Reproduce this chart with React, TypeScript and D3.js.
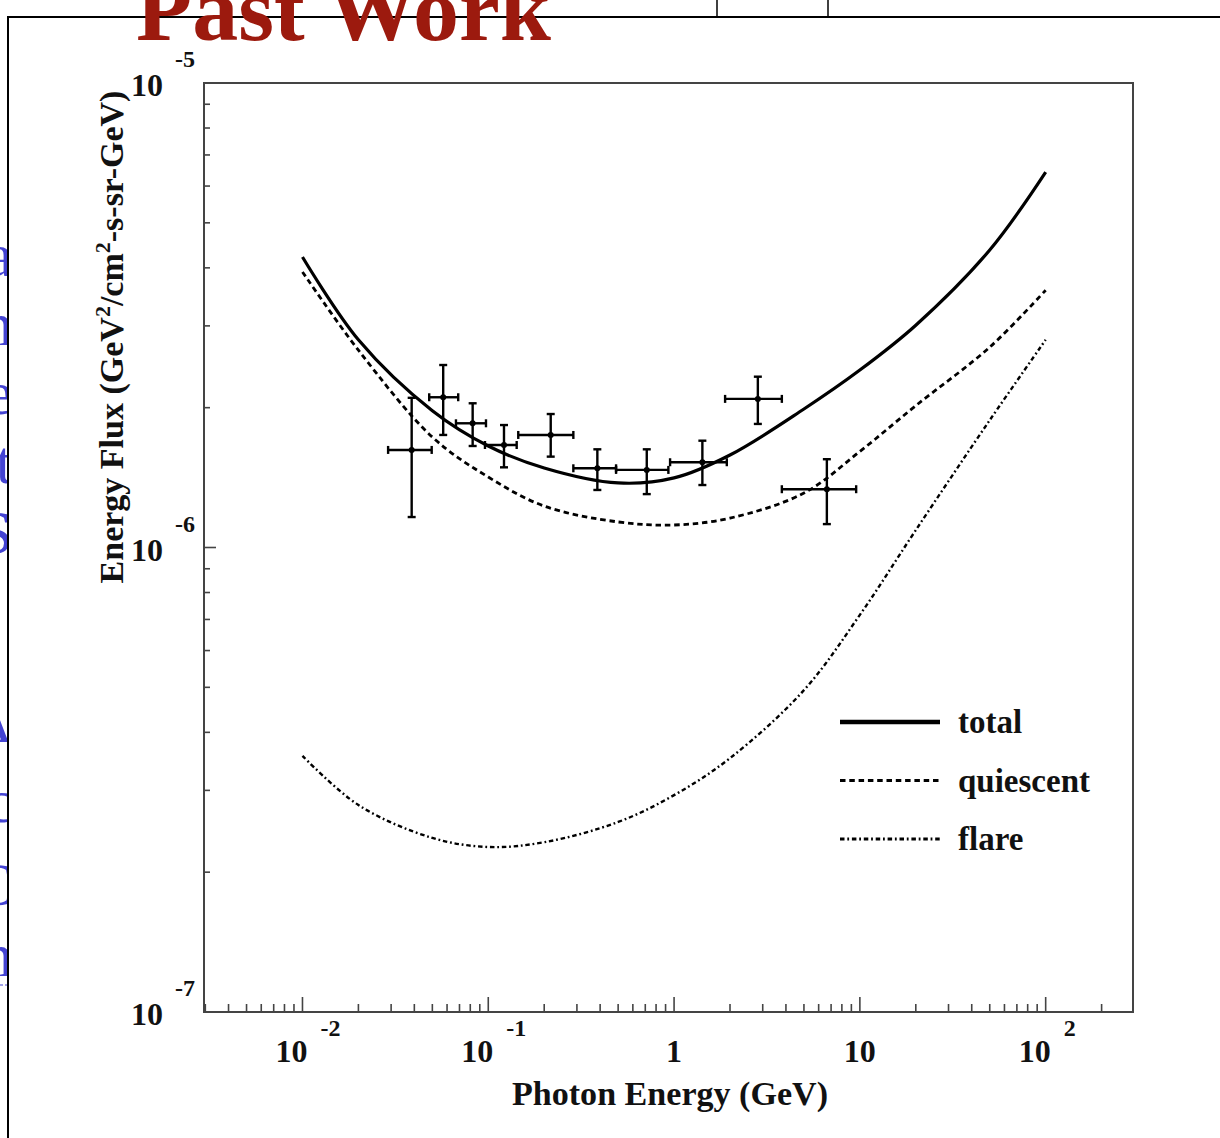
import React from "react";
import * as d3 from "d3";

const W = 1220;
const H = 1138;

// model curves (GeV, GeV^2/cm^2-s-sr-GeV)
const curveEnergy = [0.01, 0.02, 0.05, 0.1, 0.2, 0.5, 1, 2, 5, 10, 20, 50, 100];
const totalFlux = [4.22e-6, 2.8e-6, 1.97e-6, 1.654e-6, 1.483e-6, 1.377e-6, 1.412e-6, 1.582e-6, 1.987e-6, 2.41e-6, 3.01e-6, 4.37e-6, 6.43e-6];
const quiescentFlux = [3.92e-6, 2.66e-6, 1.729e-6, 1.418e-6, 1.228e-6, 1.135e-6, 1.118e-6, 1.157e-6, 1.31e-6, 1.61e-6, 2.02e-6, 2.7e-6, 3.58e-6];
const flareFlux = [3.56e-7, 2.79e-7, 2.37e-7, 2.266e-7, 2.32e-7, 2.565e-7, 2.93e-7, 3.52e-7, 4.93e-7, 7.16e-7, 1.09e-6, 1.88e-6, 2.8e-6];

// measured points with error bars
const pointE = [0.0387, 0.0572, 0.0824, 0.1215, 0.2168, 0.3864, 0.7129, 1.42, 2.824, 6.642];
const pointELow = [0.0289, 0.0481, 0.067, 0.096, 0.145, 0.287, 0.4873, 0.9517, 1.882, 3.802];
const pointEHigh = [0.0496, 0.0689, 0.0972, 0.1422, 0.287, 0.4873, 0.9318, 1.922, 3.802, 9.55];
const pointFlux = [1.622e-6, 2.106e-6, 1.851e-6, 1.662e-6, 1.747e-6, 1.481e-6, 1.469e-6, 1.526e-6, 2.089e-6, 1.335e-6];
const pointFluxLow = [1.163e-6, 1.747e-6, 1.654e-6, 1.488e-6, 1.569e-6, 1.33e-6, 1.303e-6, 1.363e-6, 1.845e-6, 1.123e-6];
const pointFluxHigh = [2.1e-6, 2.471e-6, 2.044e-6, 1.835e-6, 1.938e-6, 1.627e-6, 1.627e-6, 1.698e-6, 2.332e-6, 1.549e-6];

// tick labels
const xTickValues = [0.01, 0.1, 1, 10, 100];
const xTickBase = ["10", "10", "1", "10", "10"];
const xTickExp = ["-2", "-1", "", "", "2"];
const yTickValues = [1e-7, 1e-6, 1e-5];
const yTickBase = ["10", "10", "10"];
const yTickExp = ["-7", "-6", "-5"];

const legendLabels = ["total", "quiescent", "flare"];

const SERIF = "'Liberation Serif', 'DejaVu Serif', serif";

export default function App() {
  const x = d3.scaleLog().domain([Math.pow(10, -2.53), Math.pow(10, 2.47)]).range([204, 1133]);
  const y = d3.scaleLog().domain([1e-7, 1e-5]).range([1012, 83]);
  const [x0, x1] = x.range();
  const [yb, yt] = y.range();

  const line = d3.line<[number, number]>().curve(d3.curveCatmullRom.alpha(0.5));
  const path = (arr: number[]) => line(curveEnergy.map((e, i) => [x(e), y(arr[i])] as [number, number])) || "";

  const isMajor = (v: number) => Math.abs(Math.log10(v) - Math.round(Math.log10(v))) < 1e-6;
  const xd = x.domain();
  const xTicks = x.ticks().filter((v) => v >= xd[0] && v <= xd[1]);
  const yTicks = y.ticks().filter((v) => v > 1e-7 && v < 1e-5);

  const styles = [
    { dash: undefined, w: 3.2, lw: 4.5 },
    { dash: "5.5 3.8", w: 2.8, lw: 3 },
    { dash: "4.5 2.8 1.8 2.8", w: 2.4, lw: 2.8 },
  ];
  const series = [totalFlux, quiescentFlux, flareFlux];

  const blue = "#4444d2";
  const blueSlivers = [
    { ch: "a", y: 276 },
    { ch: "n", y: 345 },
    { ch: "e", y: 414 },
    { ch: "t", y: 483 },
    { ch: "S", y: 553 },
    { ch: "A", y: 742 },
    { ch: "c", y: 822 },
    { ch: "C", y: 905 },
    { ch: "n", y: 976 },
  ];

  return (
    <svg
      width={W}
      height={H}
      viewBox={`0 0 ${W} ${H}`}
      style={{ position: "absolute", left: 0, top: 0, background: "#fff" }}
      fontFamily={SERIF}
    >
      <rect x={0} y={0} width={W} height={H} fill="#fff" />
      {/* slide text behind the picture */}
      {blueSlivers.map((s, i) => (
        <text key={i} x={13} y={s.y} textAnchor="end" fontSize={62} fill={blue} fontFamily={SERIF}>
          {s.ch}
        </text>
      ))}
      <line x1={0} x2={8} y1={985} y2={985} stroke={blue} strokeWidth={1} strokeDasharray="3 2" />
      <line x1={717} x2={717} y1={0} y2={18} stroke="#000" strokeWidth={1.5} />
      <line x1={828} x2={828} y1={0} y2={18} stroke="#000" strokeWidth={1.5} />

      {/* picture */}
      <rect x={8} y={17} width={W} height={H} fill="#fff" stroke="#000" strokeWidth={2} />

      {/* frame */}
      <rect x={x0} y={yt} width={x1 - x0} height={yb - yt} fill="none" stroke="#444" strokeWidth={2} />

      {/* x ticks */}
      {xTicks.map((v, i) => (
        <line key={"xt" + i} x1={x(v)} x2={x(v)} y1={yb} y2={yb - (isMajor(v) ? 15 : 8)} stroke="#444" strokeWidth={1.6} />
      ))}
      {/* y ticks */}
      {yTicks.map((v, i) => (
        <line key={"yt" + i} x1={x0} x2={x0 + (isMajor(v) ? 12 : 6)} y1={y(v)} y2={y(v)} stroke="#444" strokeWidth={1.6} />
      ))}

      {/* x tick labels */}
      {xTickValues.map((v, i) =>
        xTickExp[i] ? (
          <g key={"xl" + i} fontWeight="bold" fill="#111">
            <text x={x(v) + 5} y={1062} textAnchor="end" fontSize={32}>{xTickBase[i]}</text>
            <text x={x(v) + 18} y={1036} textAnchor="start" fontSize={24}>{xTickExp[i]}</text>
          </g>
        ) : (
          <text key={"xl" + i} x={x(v)} y={1062} textAnchor="middle" fontSize={32} fontWeight="bold" fill="#111">
            {xTickBase[i]}
          </text>
        )
      )}
      {/* y tick labels */}
      {yTickValues.map((v, i) => (
        <g key={"yl" + i} fontWeight="bold" fill="#111">
          <text x={163} y={y(v) + 13} textAnchor="end" fontSize={32}>{yTickBase[i]}</text>
          <text x={175} y={y(v) - 16} textAnchor="start" fontSize={24}>{yTickExp[i]}</text>
        </g>
      ))}

      {/* axis titles */}
      <text x={670} y={1105} textAnchor="middle" fontSize={34} fontWeight="bold" fill="#111" textLength={316} lengthAdjust="spacingAndGlyphs">
        Photon Energy (GeV)
      </text>
      <text
        transform="translate(123,337) rotate(-90)"
        textAnchor="middle"
        fontSize={34}
        fontWeight="bold"
        fill="#111"
      >
        Energy Flux (GeV<tspan fontSize={22} dy={-13}>2</tspan>
        <tspan dy={13}>/cm</tspan>
        <tspan fontSize={22} dy={-13}>2</tspan>
        <tspan dy={13}>-s-sr-GeV)</tspan>
      </text>

      {/* model curves */}
      {series.map((s, i) => (
        <path key={"c" + i} d={path(s)} fill="none" stroke="#000" strokeWidth={styles[i].w} strokeDasharray={styles[i].dash} />
      ))}

      {/* data points */}
      {pointE.map((e, i) => {
        const cx = x(e);
        const cy = y(pointFlux[i]);
        const xl = x(pointELow[i]);
        const xh = x(pointEHigh[i]);
        const yl = y(pointFluxLow[i]);
        const yh = y(pointFluxHigh[i]);
        return (
          <g key={"p" + i} stroke="#000" strokeWidth={2.4}>
            <line x1={xl} x2={xh} y1={cy} y2={cy} />
            <line x1={cx} x2={cx} y1={yl} y2={yh} />
            <line x1={xl} x2={xl} y1={cy - 4} y2={cy + 4} />
            <line x1={xh} x2={xh} y1={cy - 4} y2={cy + 4} />
            <line x1={cx - 4} x2={cx + 4} y1={yl} y2={yl} />
            <line x1={cx - 4} x2={cx + 4} y1={yh} y2={yh} />
            <circle cx={cx} cy={cy} r={3} fill="#000" stroke="none" />
          </g>
        );
      })}

      {/* legend */}
      {legendLabels.map((lab, i) => (
        <g key={"lg" + i}>
          <line x1={840} x2={940} y1={722 + i * 58.5} y2={722 + i * 58.5} stroke="#000" strokeWidth={styles[i].lw} strokeDasharray={styles[i].dash} />
          <text x={958} y={733 + i * 58.5} fontSize={33} fontWeight="bold" fill="#111">{lab}</text>
        </g>
      ))}

      {/* slide title on top */}
      <text x={136} y={40} fontSize={92} fontWeight="bold" fill="#9c1a0e" fontFamily={SERIF}>Past Work</text>
    </svg>
  );
}
